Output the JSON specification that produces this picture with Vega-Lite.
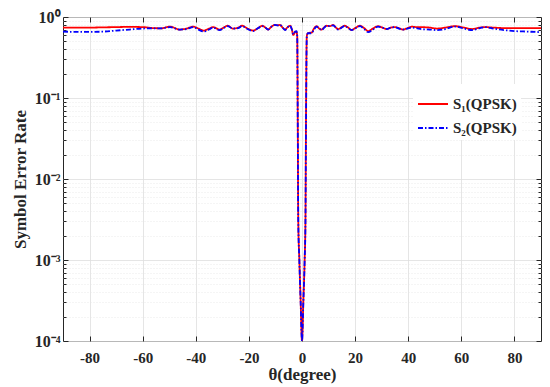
{
  "$schema": "https://vega.github.io/schema/vega-lite/v6.json",
  "width": 478,
  "height": 324,
  "autosize": {"type": "none"},
  "padding": {"left": 63, "top": 17, "right": 9, "bottom": 46},
  "background": "white",
  "config": {
    "view": {"stroke": "#262626", "strokeWidth": 1},
    "font": "Liberation Serif"
  },
  "data": {"values": [
    {"t": -90, "v": 0.74, "s": "S₁(QPSK)"},
    {"t": -85, "v": 0.74, "s": "S₁(QPSK)"},
    {"t": -80, "v": 0.74, "s": "S₁(QPSK)"},
    {"t": -75, "v": 0.745, "s": "S₁(QPSK)"},
    {"t": -70, "v": 0.75, "s": "S₁(QPSK)"},
    {"t": -65, "v": 0.755, "s": "S₁(QPSK)"},
    {"t": -60, "v": 0.75, "s": "S₁(QPSK)"},
    {"t": -56, "v": 0.73, "s": "S₁(QPSK)"},
    {"t": -53, "v": 0.725, "s": "S₁(QPSK)"},
    {"t": -49.7, "v": 0.76, "s": "S₁(QPSK)"},
    {"t": -46, "v": 0.70, "s": "S₁(QPSK)"},
    {"t": -43.5, "v": 0.72, "s": "S₁(QPSK)"},
    {"t": -41, "v": 0.76, "s": "S₁(QPSK)"},
    {"t": -39, "v": 0.72, "s": "S₁(QPSK)"},
    {"t": -37, "v": 0.68, "s": "S₁(QPSK)"},
    {"t": -35, "v": 0.72, "s": "S₁(QPSK)"},
    {"t": -33.5, "v": 0.75, "s": "S₁(QPSK)"},
    {"t": -31, "v": 0.70, "s": "S₁(QPSK)"},
    {"t": -29.5, "v": 0.74, "s": "S₁(QPSK)"},
    {"t": -28, "v": 0.78, "s": "S₁(QPSK)"},
    {"t": -26, "v": 0.72, "s": "S₁(QPSK)"},
    {"t": -24, "v": 0.74, "s": "S₁(QPSK)"},
    {"t": -22.6, "v": 0.78, "s": "S₁(QPSK)"},
    {"t": -20.5, "v": 0.72, "s": "S₁(QPSK)"},
    {"t": -18.4, "v": 0.68, "s": "S₁(QPSK)"},
    {"t": -16.5, "v": 0.73, "s": "S₁(QPSK)"},
    {"t": -15, "v": 0.78, "s": "S₁(QPSK)"},
    {"t": -13.8, "v": 0.74, "s": "S₁(QPSK)"},
    {"t": -12.8, "v": 0.70, "s": "S₁(QPSK)"},
    {"t": -11.5, "v": 0.76, "s": "S₁(QPSK)"},
    {"t": -10.2, "v": 0.80, "s": "S₁(QPSK)"},
    {"t": -9.2, "v": 0.79, "s": "S₁(QPSK)"},
    {"t": -8.3, "v": 0.80, "s": "S₁(QPSK)"},
    {"t": -7.3, "v": 0.74, "s": "S₁(QPSK)"},
    {"t": -6.4, "v": 0.70, "s": "S₁(QPSK)"},
    {"t": -5.4, "v": 0.75, "s": "S₁(QPSK)"},
    {"t": -4.5, "v": 0.78, "s": "S₁(QPSK)"},
    {"t": -3.8, "v": 0.70, "s": "S₁(QPSK)"},
    {"t": -3.3, "v": 0.60, "s": "S₁(QPSK)"},
    {"t": -2.6, "v": 0.65, "s": "S₁(QPSK)"},
    {"t": -2.1, "v": 0.66, "s": "S₁(QPSK)"},
    {"t": -1.8, "v": 0.58, "s": "S₁(QPSK)"},
    {"t": -1.6, "v": 0.05, "s": "S₁(QPSK)"},
    {"t": -1.4, "v": 0.003, "s": "S₁(QPSK)"},
    {"t": -1, "v": 0.001, "s": "S₁(QPSK)"},
    {"t": -0.5, "v": 0.0003, "s": "S₁(QPSK)"},
    {"t": 0, "v": 0.0001, "s": "S₁(QPSK)"},
    {"t": 0.5, "v": 0.0003, "s": "S₁(QPSK)"},
    {"t": 1, "v": 0.001, "s": "S₁(QPSK)"},
    {"t": 1.3, "v": 0.003, "s": "S₁(QPSK)"},
    {"t": 1.5, "v": 0.05, "s": "S₁(QPSK)"},
    {"t": 1.8, "v": 0.58, "s": "S₁(QPSK)"},
    {"t": 2.2, "v": 0.63, "s": "S₁(QPSK)"},
    {"t": 3, "v": 0.64, "s": "S₁(QPSK)"},
    {"t": 3.6, "v": 0.64, "s": "S₁(QPSK)"},
    {"t": 4.5, "v": 0.72, "s": "S₁(QPSK)"},
    {"t": 5.5, "v": 0.77, "s": "S₁(QPSK)"},
    {"t": 6.5, "v": 0.72, "s": "S₁(QPSK)"},
    {"t": 7.4, "v": 0.70, "s": "S₁(QPSK)"},
    {"t": 8.4, "v": 0.75, "s": "S₁(QPSK)"},
    {"t": 9.3, "v": 0.78, "s": "S₁(QPSK)"},
    {"t": 10.5, "v": 0.77, "s": "S₁(QPSK)"},
    {"t": 11.7, "v": 0.80, "s": "S₁(QPSK)"},
    {"t": 12.6, "v": 0.75, "s": "S₁(QPSK)"},
    {"t": 13.6, "v": 0.71, "s": "S₁(QPSK)"},
    {"t": 15, "v": 0.75, "s": "S₁(QPSK)"},
    {"t": 16, "v": 0.78, "s": "S₁(QPSK)"},
    {"t": 17.4, "v": 0.74, "s": "S₁(QPSK)"},
    {"t": 18.7, "v": 0.69, "s": "S₁(QPSK)"},
    {"t": 20, "v": 0.73, "s": "S₁(QPSK)"},
    {"t": 21.8, "v": 0.78, "s": "S₁(QPSK)"},
    {"t": 23.4, "v": 0.73, "s": "S₁(QPSK)"},
    {"t": 24.9, "v": 0.67, "s": "S₁(QPSK)"},
    {"t": 26.7, "v": 0.72, "s": "S₁(QPSK)"},
    {"t": 28.6, "v": 0.77, "s": "S₁(QPSK)"},
    {"t": 30.3, "v": 0.74, "s": "S₁(QPSK)"},
    {"t": 31.9, "v": 0.71, "s": "S₁(QPSK)"},
    {"t": 33.5, "v": 0.74, "s": "S₁(QPSK)"},
    {"t": 35, "v": 0.75, "s": "S₁(QPSK)"},
    {"t": 36.5, "v": 0.73, "s": "S₁(QPSK)"},
    {"t": 38, "v": 0.70, "s": "S₁(QPSK)"},
    {"t": 39.7, "v": 0.73, "s": "S₁(QPSK)"},
    {"t": 41.4, "v": 0.76, "s": "S₁(QPSK)"},
    {"t": 43, "v": 0.75, "s": "S₁(QPSK)"},
    {"t": 45, "v": 0.75, "s": "S₁(QPSK)"},
    {"t": 48, "v": 0.74, "s": "S₁(QPSK)"},
    {"t": 51, "v": 0.72, "s": "S₁(QPSK)"},
    {"t": 54, "v": 0.74, "s": "S₁(QPSK)"},
    {"t": 57.6, "v": 0.77, "s": "S₁(QPSK)"},
    {"t": 61, "v": 0.74, "s": "S₁(QPSK)"},
    {"t": 64, "v": 0.71, "s": "S₁(QPSK)"},
    {"t": 67, "v": 0.74, "s": "S₁(QPSK)"},
    {"t": 69, "v": 0.75, "s": "S₁(QPSK)"},
    {"t": 72, "v": 0.74, "s": "S₁(QPSK)"},
    {"t": 76, "v": 0.73, "s": "S₁(QPSK)"},
    {"t": 80, "v": 0.73, "s": "S₁(QPSK)"},
    {"t": 85, "v": 0.73, "s": "S₁(QPSK)"},
    {"t": 90, "v": 0.73, "s": "S₁(QPSK)"},
    {"t": -90, "v": 0.66, "s": "S₂(QPSK)"},
    {"t": -85, "v": 0.655, "s": "S₂(QPSK)"},
    {"t": -80, "v": 0.655, "s": "S₂(QPSK)"},
    {"t": -75, "v": 0.66, "s": "S₂(QPSK)"},
    {"t": -70, "v": 0.68, "s": "S₂(QPSK)"},
    {"t": -65, "v": 0.70, "s": "S₂(QPSK)"},
    {"t": -60, "v": 0.72, "s": "S₂(QPSK)"},
    {"t": -56, "v": 0.725, "s": "S₂(QPSK)"},
    {"t": -53, "v": 0.725, "s": "S₂(QPSK)"},
    {"t": -49.7, "v": 0.75, "s": "S₂(QPSK)"},
    {"t": -46, "v": 0.70, "s": "S₂(QPSK)"},
    {"t": -43.5, "v": 0.71, "s": "S₂(QPSK)"},
    {"t": -41, "v": 0.75, "s": "S₂(QPSK)"},
    {"t": -39, "v": 0.70, "s": "S₂(QPSK)"},
    {"t": -37, "v": 0.66, "s": "S₂(QPSK)"},
    {"t": -35, "v": 0.70, "s": "S₂(QPSK)"},
    {"t": -33.5, "v": 0.74, "s": "S₂(QPSK)"},
    {"t": -31, "v": 0.69, "s": "S₂(QPSK)"},
    {"t": -29.5, "v": 0.73, "s": "S₂(QPSK)"},
    {"t": -28, "v": 0.77, "s": "S₂(QPSK)"},
    {"t": -26, "v": 0.72, "s": "S₂(QPSK)"},
    {"t": -24, "v": 0.73, "s": "S₂(QPSK)"},
    {"t": -22.6, "v": 0.77, "s": "S₂(QPSK)"},
    {"t": -20.5, "v": 0.71, "s": "S₂(QPSK)"},
    {"t": -18.4, "v": 0.67, "s": "S₂(QPSK)"},
    {"t": -16.5, "v": 0.73, "s": "S₂(QPSK)"},
    {"t": -15, "v": 0.77, "s": "S₂(QPSK)"},
    {"t": -13.8, "v": 0.74, "s": "S₂(QPSK)"},
    {"t": -12.8, "v": 0.70, "s": "S₂(QPSK)"},
    {"t": -11.5, "v": 0.76, "s": "S₂(QPSK)"},
    {"t": -10.2, "v": 0.80, "s": "S₂(QPSK)"},
    {"t": -9.2, "v": 0.79, "s": "S₂(QPSK)"},
    {"t": -8.3, "v": 0.80, "s": "S₂(QPSK)"},
    {"t": -7.3, "v": 0.74, "s": "S₂(QPSK)"},
    {"t": -6.4, "v": 0.69, "s": "S₂(QPSK)"},
    {"t": -5.4, "v": 0.75, "s": "S₂(QPSK)"},
    {"t": -4.5, "v": 0.78, "s": "S₂(QPSK)"},
    {"t": -3.8, "v": 0.70, "s": "S₂(QPSK)"},
    {"t": -3.3, "v": 0.61, "s": "S₂(QPSK)"},
    {"t": -2.6, "v": 0.66, "s": "S₂(QPSK)"},
    {"t": -2.1, "v": 0.67, "s": "S₂(QPSK)"},
    {"t": -1.8, "v": 0.58, "s": "S₂(QPSK)"},
    {"t": -1.6, "v": 0.05, "s": "S₂(QPSK)"},
    {"t": -1.4, "v": 0.003, "s": "S₂(QPSK)"},
    {"t": -1, "v": 0.001, "s": "S₂(QPSK)"},
    {"t": -0.5, "v": 0.0003, "s": "S₂(QPSK)"},
    {"t": 0, "v": 0.0001, "s": "S₂(QPSK)"},
    {"t": 0.5, "v": 0.0003, "s": "S₂(QPSK)"},
    {"t": 1, "v": 0.001, "s": "S₂(QPSK)"},
    {"t": 1.3, "v": 0.003, "s": "S₂(QPSK)"},
    {"t": 1.5, "v": 0.04, "s": "S₂(QPSK)"},
    {"t": 1.8, "v": 0.56, "s": "S₂(QPSK)"},
    {"t": 2.2, "v": 0.63, "s": "S₂(QPSK)"},
    {"t": 3, "v": 0.63, "s": "S₂(QPSK)"},
    {"t": 3.6, "v": 0.63, "s": "S₂(QPSK)"},
    {"t": 4.5, "v": 0.70, "s": "S₂(QPSK)"},
    {"t": 5.5, "v": 0.76, "s": "S₂(QPSK)"},
    {"t": 6.5, "v": 0.72, "s": "S₂(QPSK)"},
    {"t": 7.4, "v": 0.69, "s": "S₂(QPSK)"},
    {"t": 8.4, "v": 0.74, "s": "S₂(QPSK)"},
    {"t": 9.3, "v": 0.78, "s": "S₂(QPSK)"},
    {"t": 10.5, "v": 0.77, "s": "S₂(QPSK)"},
    {"t": 11.7, "v": 0.79, "s": "S₂(QPSK)"},
    {"t": 12.6, "v": 0.75, "s": "S₂(QPSK)"},
    {"t": 13.6, "v": 0.70, "s": "S₂(QPSK)"},
    {"t": 15, "v": 0.74, "s": "S₂(QPSK)"},
    {"t": 16, "v": 0.78, "s": "S₂(QPSK)"},
    {"t": 17.4, "v": 0.73, "s": "S₂(QPSK)"},
    {"t": 18.7, "v": 0.69, "s": "S₂(QPSK)"},
    {"t": 20, "v": 0.72, "s": "S₂(QPSK)"},
    {"t": 21.8, "v": 0.77, "s": "S₂(QPSK)"},
    {"t": 23.4, "v": 0.71, "s": "S₂(QPSK)"},
    {"t": 24.9, "v": 0.65, "s": "S₂(QPSK)"},
    {"t": 26.7, "v": 0.70, "s": "S₂(QPSK)"},
    {"t": 28.6, "v": 0.76, "s": "S₂(QPSK)"},
    {"t": 30.3, "v": 0.74, "s": "S₂(QPSK)"},
    {"t": 31.9, "v": 0.71, "s": "S₂(QPSK)"},
    {"t": 33.5, "v": 0.74, "s": "S₂(QPSK)"},
    {"t": 35, "v": 0.75, "s": "S₂(QPSK)"},
    {"t": 36.5, "v": 0.72, "s": "S₂(QPSK)"},
    {"t": 38, "v": 0.70, "s": "S₂(QPSK)"},
    {"t": 39.7, "v": 0.72, "s": "S₂(QPSK)"},
    {"t": 41.4, "v": 0.74, "s": "S₂(QPSK)"},
    {"t": 43, "v": 0.73, "s": "S₂(QPSK)"},
    {"t": 45, "v": 0.71, "s": "S₂(QPSK)"},
    {"t": 48, "v": 0.70, "s": "S₂(QPSK)"},
    {"t": 51, "v": 0.69, "s": "S₂(QPSK)"},
    {"t": 54, "v": 0.71, "s": "S₂(QPSK)"},
    {"t": 57.6, "v": 0.76, "s": "S₂(QPSK)"},
    {"t": 61, "v": 0.72, "s": "S₂(QPSK)"},
    {"t": 64, "v": 0.69, "s": "S₂(QPSK)"},
    {"t": 67, "v": 0.73, "s": "S₂(QPSK)"},
    {"t": 69, "v": 0.75, "s": "S₂(QPSK)"},
    {"t": 72, "v": 0.72, "s": "S₂(QPSK)"},
    {"t": 76, "v": 0.69, "s": "S₂(QPSK)"},
    {"t": 80, "v": 0.67, "s": "S₂(QPSK)"},
    {"t": 85, "v": 0.66, "s": "S₂(QPSK)"},
    {"t": 90, "v": 0.65, "s": "S₂(QPSK)"}
  ]},
  "resolve": {"axis": {"x": "independent", "y": "independent"}},
  "layer": [
    {
      "mark": {"type": "line", "strokeWidth": 1.8, "clip": true, "interpolate": "monotone"},
      "encoding": {
        "x": {
          "field": "t", "type": "quantitative",
          "scale": {"domain": [-90, 90], "nice": false, "zero": false},
          "axis": {
            "values": [-80, -60, -40, -20, 0, 20, 40, 60, 80],
            "labelExpr": "replace(datum.label, '−', '-')",
            "title": "θ(degree)",
            "titleFont": "Liberation Serif", "titleFontSize": 17, "titleFontWeight": "bold", "titleColor": "#262626",
            "titlePadding": 1,
            "labelFont": "Liberation Serif", "labelFontSize": 15, "labelFontWeight": "bold", "labelColor": "#262626",
            "labelPadding": 14,
            "tickSize": -5, "tickColor": "#262626",
            "domain": false,
            "grid": true, "gridColor": "#dedede", "gridWidth": 0.8
          }
        },
        "y": {
          "field": "v", "type": "quantitative",
          "scale": {"type": "log", "domain": [0.0001, 1], "nice": false},
          "axis": {
            "values": [0.0001, 0.0002, 0.0003, 0.0004, 0.0005, 0.0006, 0.0007, 0.0008, 0.0009,
                       0.001, 0.002, 0.003, 0.004, 0.005, 0.006, 0.007, 0.008, 0.009,
                       0.01, 0.02, 0.03, 0.04, 0.05, 0.06, 0.07, 0.08, 0.09,
                       0.1, 0.2, 0.3, 0.4, 0.5, 0.6, 0.7, 0.8, 0.9, 1],
            "labelExpr": "abs(datum.value/pow(10,round(log(datum.value)/LN10))-1)<1e-6 ? (round(log(datum.value)/LN10)==0?'10⁰':round(log(datum.value)/LN10)==-1?'10⁻¹':round(log(datum.value)/LN10)==-2?'10⁻²':round(log(datum.value)/LN10)==-3?'10⁻³':'10⁻⁴') : ''",
            "title": "Symbol Error Rate",
            "titleFont": "Liberation Serif", "titleFontSize": 17, "titleFontWeight": "bold", "titleColor": "#262626",
            "titlePadding": 5,
            "labelFont": "Liberation Serif", "labelFontSize": 16, "labelFontWeight": "bold", "labelColor": "#262626",
            "labelPadding": 8,
            "labelOverlap": false,
            "tickColor": "#262626",
            "tickSize": {"condition": {"test": "abs(datum.value/pow(10,round(log(datum.value)/LN10))-1)<1e-6", "value": -5}, "value": -3},
            "domain": false,
            "grid": true,
            "gridColor": {"condition": {"test": "abs(datum.value/pow(10,round(log(datum.value)/LN10))-1)<1e-6", "value": "#dedede"}, "value": "#e6e6e6"},
            "gridDash": {"condition": {"test": "abs(datum.value/pow(10,round(log(datum.value)/LN10))-1)<1e-6", "value": []}, "value": [1, 2]},
            "gridWidth": 0.8
          }
        },
        "color": {
          "field": "s", "type": "nominal",
          "scale": {"domain": ["S₁(QPSK)", "S₂(QPSK)"], "range": ["#ff0000", "#0000ff"]},
          "legend": {
            "title": null,
            "orient": "none",
            "legendX": 350,
            "legendY": 67,
            "fillColor": "white",
            "padding": 4,
            "symbolType": "stroke",
            "symbolSize": 900,
            "symbolStrokeWidth": 1.8,
            "labelFont": "Liberation Serif", "labelFontSize": 15, "labelFontWeight": "bold", "labelColor": "#262626",
            "rowPadding": -9,
            "labelOffset": 4
          }
        },
        "strokeDash": {
          "field": "s", "type": "nominal",
          "scale": {"domain": ["S₁(QPSK)", "S₂(QPSK)"], "range": [[1, 0], [5, 2, 1.5, 2]]},
          "legend": null
        }
      }
    },
    {
      "mark": {"type": "point", "opacity": 0},
      "encoding": {
        "x": {
          "field": "t", "type": "quantitative",
          "axis": {
            "orient": "top", "values": [-80, -60, -40, -20, 0, 20, 40, 60, 80],
            "labels": false, "title": null, "grid": false, "domain": false,
            "tickSize": -5, "tickColor": "#262626"
          }
        },
        "y": {
          "field": "v", "type": "quantitative",
          "axis": {
            "orient": "right",
            "values": [0.0001, 0.0002, 0.0003, 0.0004, 0.0005, 0.0006, 0.0007, 0.0008, 0.0009,
                       0.001, 0.002, 0.003, 0.004, 0.005, 0.006, 0.007, 0.008, 0.009,
                       0.01, 0.02, 0.03, 0.04, 0.05, 0.06, 0.07, 0.08, 0.09,
                       0.1, 0.2, 0.3, 0.4, 0.5, 0.6, 0.7, 0.8, 0.9, 1],
            "labels": false, "title": null, "grid": false, "domain": false,
            "tickColor": "#262626",
            "tickSize": {"condition": {"test": "abs(datum.value/pow(10,round(log(datum.value)/LN10))-1)<1e-6", "value": -5}, "value": -3}
          }
        }
      }
    }
  ]
}
